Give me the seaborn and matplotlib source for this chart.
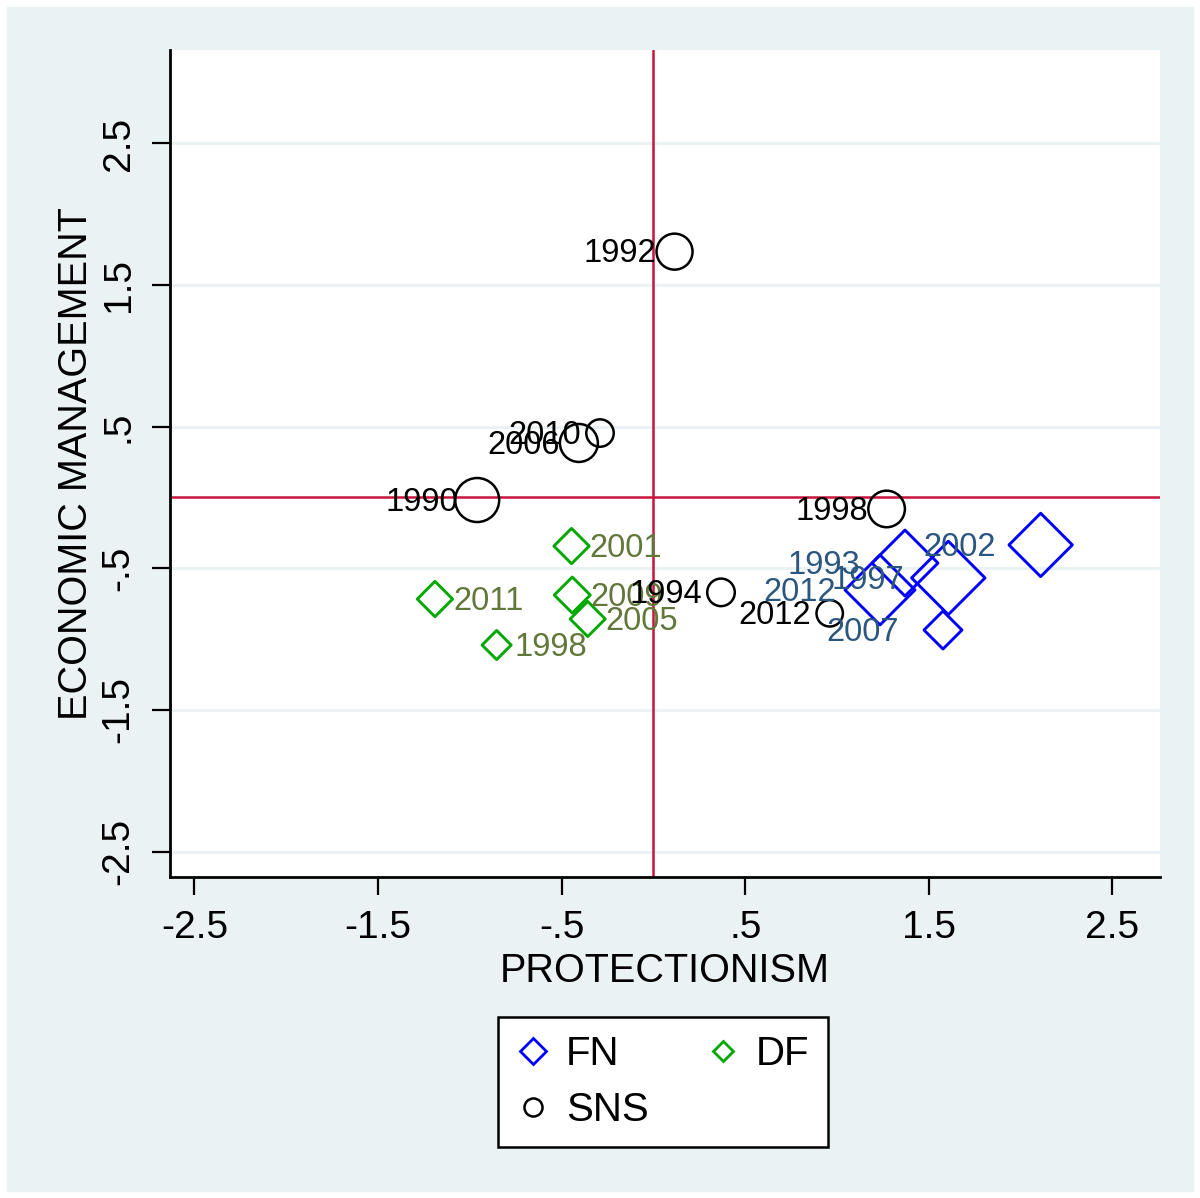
import pandas as pd
import matplotlib.pyplot as plt
import seaborn as sns
from matplotlib.lines import Line2D
from matplotlib.patches import Rectangle

# Datos
fn_years = ['1993', '1997', '2002', '2007', '2012']
fn_x = [1.370, 1.606, 2.109, 1.577, 1.234]
fn_y = [-0.463, -0.568, -0.335, -0.936, -0.653]
fn_weight = [27.2, 33.7, 25.1, 9.0, 30.6]

df_years = ['1998', '2001', '2005', '2009', '2011']
df_x = [-0.854, -0.446, -0.358, -0.442, -1.190]
df_y = [-1.042, -0.343, -0.858, -0.689, -0.717]
df_weight = [5.3, 7.8, 7.7, 8.1, 7.8]

sns_years = ['1990', '1992', '1994', '1998', '2006', '2010', '2012']
sns_x = [-0.960, 0.115, 0.368, 1.270, -0.406, -0.291, 0.960]
sns_y = [-0.018, 1.736, -0.670, -0.081, 0.385, 0.455, -0.818]
sns_weight = [24.2, 16.2, 9.5, 16.7, 18.0, 9.4, 8.7]

ticks = [-2.5, -1.5, -0.5, 0.5, 1.5, 2.5]
tick_labels = ['-2.5', '-1.5', '-.5', '.5', '1.5', '2.5']

# Estilo
sns.set_theme(style='white')
plt.rcParams['font.family'] = ['Liberation Sans', 'DejaVu Sans']
plt.rcParams['text.color'] = 'black'
plt.rcParams['axes.labelcolor'] = 'black'
plt.rcParams['xtick.color'] = 'black'
plt.rcParams['ytick.color'] = 'black'

BG = '#EAF2F3'
RED = '#C8143C'

fig = plt.figure(figsize=(12, 11.98), dpi=100, facecolor='white')
fig.patches.append(Rectangle((7 / 1200, 7 / 1198), 1186 / 1200, 1184 / 1198,
                             transform=fig.transFigure, color=BG, zorder=-10))
ax = fig.add_axes([170 / 1200, 1 - 877 / 1198, 990 / 1200, 827 / 1198])
ax.set_facecolor('white')

# Lineas de referencia y grilla
for t in ticks:
    ax.axhline(t, color=BG, lw=2.2, zorder=0.5)
ax.axvline(0, color=RED, lw=1.8, zorder=1)
ax.axhline(0, color=RED, lw=1.8, zorder=1)

parties = [
    ('FN', fn_years, fn_x, fn_y, fn_weight, 'D', '#0000FF', '#2A5680', -32, 2.1),
    ('DF', df_years, df_x, df_y, df_weight, 'D', '#00A800', '#62773A', 13, 2.1),
    ('SNS', sns_years, sns_x, sns_y, sns_weight, 'o', 'black', 'black', -13.5, 1.8),
]

for name, years, xs, ys, ws, marker, col, lcol, off, lw in parties:
    d = pd.DataFrame({'x': xs, 'y': ys, 'weight': ws, 'year': years})
    sns.scatterplot(data=d, x='x', y='y', size='weight', sizes=(0, 4150), size_norm=(0, 100),
                    marker=marker, color=col, facecolor='none', edgecolor=col, linewidth=lw,
                    legend=False, ax=ax, zorder=3)
    for _, r in d.iterrows():
        ax.annotate(r['year'], (r['x'], r['y']), xytext=(off, -1.5), textcoords='offset points',
                    ha='right' if off < 0 else 'left', va='center', fontsize=23.5, color=lcol,
                    zorder=4)

ax.set_xlim(-2.633, 2.759)
ax.set_ylim(-2.68, 3.16)
ax.set_xticks(ticks)
ax.set_xticklabels(tick_labels)
ax.set_yticks(ticks)
ax.set_yticklabels(tick_labels, rotation=90, va='center')

for s in ['top', 'right']:
    ax.spines[s].set_visible(False)
for s in ['left', 'bottom']:
    ax.spines[s].set_color('black')
    ax.spines[s].set_linewidth(2)
ax.tick_params(axis='both', direction='out', length=13, width=1.6, color='black',
               labelsize=28, pad=11, left=True, bottom=True)

ax.set_xlabel('PROTECTIONISM', fontsize=28.5, labelpad=4)
ax.set_ylabel('ECONOMIC MANAGEMENT', fontsize=28.5, labelpad=4)

# Leyenda
handles = [
    Line2D([], [], ls='none', marker='D', mfc='none', mec='#0000FF', ms=13.5, mew=2.0),
    Line2D([], [], ls='none', marker='o', mfc='none', mec='black', ms=13, mew=1.8),
    Line2D([], [], ls='none', marker='D', mfc='none', mec='#00A800', ms=10, mew=2.0),
]
leg = fig.legend(handles, ['FN', 'SNS', 'DF'], ncol=2, loc='center',
                 bbox_to_anchor=(663 / 1200, 1 - 1082 / 1198), fontsize=29,
                 frameon=True, fancybox=False, framealpha=1, edgecolor='black',
                 borderpad=0.45, handlelength=0.8, handletextpad=0.42,
                 columnspacing=1.45, labelspacing=0.45)
leg.get_frame().set_linewidth(1.8)

fig.savefig('out.png', dpi=100, facecolor='white')
